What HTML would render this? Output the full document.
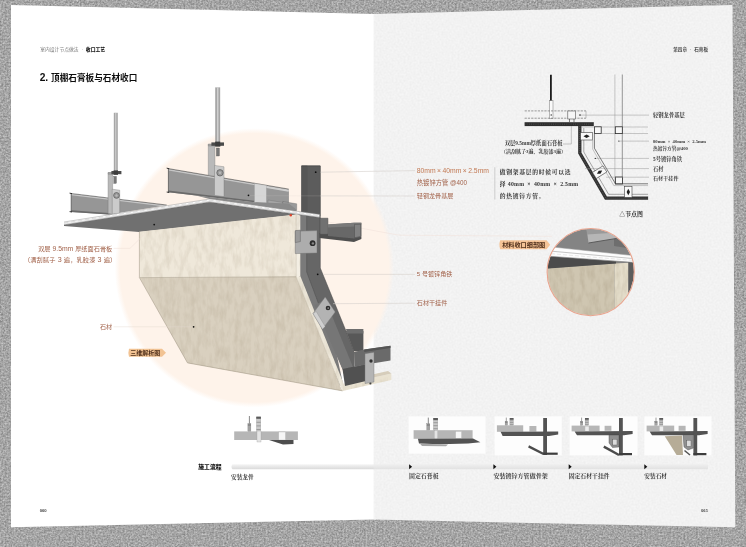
<!DOCTYPE html>
<html lang="zh"><head><meta charset="utf-8"><title>2. 顶棚石膏板与石材收口</title>
<style>html,body{margin:0;padding:0;background:#999;}body{width:746px;height:547px;overflow:hidden;font-family:"Liberation Sans","Noto Sans CJK SC",sans-serif;}svg{display:block}.sn{font-family:"Liberation Sans","Noto Sans CJK SC",sans-serif;}.sf{font-family:"Liberation Serif","Noto Serif CJK SC",serif;font-weight:bold;}</style>
</head><body>
<svg width="746" height="547" viewBox="0 0 746 547">
<defs><filter id="nz" x="0" y="0" width="100%" height="100%" color-interpolation-filters="sRGB"><feTurbulence type="fractalNoise" baseFrequency="0.56" numOctaves="2" seed="3" result="t"/><feColorMatrix in="t" type="matrix" values="0 0.4 0 0 0.447  0 0.4 0 0 0.447  0 0.4 0 0 0.447  0 0 0 0 1"/></filter>
<filter id="pz" x="0" y="0" width="100%" height="100%" color-interpolation-filters="sRGB"><feTurbulence type="fractalNoise" baseFrequency="0.5" numOctaves="2" seed="8" result="t"/><feColorMatrix in="t" type="matrix" values="0 0.05 0 0 0.924  0 0.05 0 0 0.924  0 0.05 0 0 0.924  0 0 0 0 1"/></filter>
<filter id="sz" x="0" y="0" width="100%" height="100%" color-interpolation-filters="sRGB"><feTurbulence type="fractalNoise" baseFrequency="0.2 0.075" numOctaves="3" seed="5" result="t"/><feColorMatrix in="t" type="matrix" values="0 0 0 0 0.5  0 0 0 0 0.43  0 0 0 0 0.32  0 1.8 0 0 -0.7"/></filter>
<filter id="b3"><feGaussianBlur stdDeviation="0.35"/></filter>
<filter id="b5"><feGaussianBlur stdDeviation="0.5"/></filter></defs>
<rect width="746" height="547" fill="#a5a5a5" filter="url(#nz)"/><clipPath id="cpR"><path d="M373.6,13.9 L732.5,5 L735.3,527.2 L373.6,519.6 Z"/></clipPath><path d="M11,5 L373.6,13.9 L376,13.9 L376,519.6 L373.6,519.6 L11,527.2 Z" fill="#fff"/><g clip-path="url(#cpR)"><rect x="373" y="0" width="373" height="547" fill="#f2f2f2" filter="url(#pz)"/></g><radialGradient id="pg" cx="254.3" cy="267.8" r="139.6" gradientUnits="userSpaceOnUse"><stop offset="0" stop-color="#fef3ea"/><stop offset="0.962" stop-color="#fef3ea"/><stop offset="1" stop-color="#fef3ea" stop-opacity="0"/></radialGradient><circle cx="254.3" cy="267.8" r="139.6" fill="url(#pg)"/><path d="M291.5,215.3 C330,222 385,233 400,235.2 L552,236.3" fill="none" stroke="#f1e3db" stroke-width="0.6"/><g id="main3d" filter="url(#b3)"><rect x="114.2" y="112.8" width="3.2" height="59.2" fill="#a9a9a9" /><rect x="115.3" y="112.8" width="1.0" height="59.2" fill="#d4d4d4" /><line x1="114.2" y1="112.8" x2="114.2" y2="172.0" stroke="#777" stroke-width="0.4" /><line x1="117.4" y1="112.8" x2="117.4" y2="172.0" stroke="#777" stroke-width="0.4" /><rect x="215.6" y="87.4" width="4.2" height="56.1" fill="#a9a9a9" /><rect x="217.1" y="87.4" width="1.3" height="56.1" fill="#d4d4d4" /><line x1="215.6" y1="87.4" x2="215.6" y2="143.5" stroke="#777" stroke-width="0.4" /><line x1="219.8" y1="87.4" x2="219.8" y2="143.5" stroke="#777" stroke-width="0.4" /><polygon points="71.2,193.7 166.7,205.3 109.0,214.6 71.2,211.9" fill="#969696" /><polyline points="71.2,194.5 166.7,206.0" fill="none" stroke="#c6c6c6" stroke-width="1.4" /><polyline points="71.2,193.5 166.7,205.0" fill="none" stroke="#3c3c3c" stroke-width="0.55" /><polyline points="71.2,211.1 112.0,214.0" fill="none" stroke="#6a6a6a" stroke-width="1.6" /><polyline points="71.2,193.5 71.2,212.0" fill="none" stroke="#4a4a4a" stroke-width="0.7" /><polyline points="69.6,193.2 72.0,193.6" fill="none" stroke="#222" stroke-width="0.9" /><polyline points="69.6,211.6 72.0,212.0" fill="none" stroke="#222" stroke-width="0.9" /><polygon points="108.1,172.6 112.6,172.6 112.6,214.3 108.1,213.6" fill="#b9b9b9" stroke="#7a7a7a" stroke-width="0.4" /><polygon points="112.2,189.2 119.7,190.2 119.7,213.2 112.2,214.2" fill="#cbcbcb" stroke="#7a7a7a" stroke-width="0.4" /><circle cx="116.5" cy="195.4" r="2.9" fill="#9d9d9d" stroke="#4a4a4a" stroke-width="0.6" /><circle cx="116.5" cy="195.4" r="1.5" fill="#b8b8b8" stroke="#777" stroke-width="0.3" /><polygon points="108.1,172.6 117.6,172.6 117.6,174.2 108.1,174.2" fill="#a8a8a8" stroke="#666" stroke-width="0.3" /><rect x="111.4" y="171.0" width="10.0" height="3.2" fill="#4c4c4c" /><rect x="113.6" y="170.4" width="4.4" height="4.4" fill="#3c3c3c" /><rect x="113.8" y="176.4" width="2.6" height="7.0" fill="#777" stroke="#444" stroke-width="0.3" /><polygon points="168.4,168.8 288.7,189.3 288.7,203.5 254.5,202.4 168.4,192.3" fill="#969696" /><polyline points="168.4,169.7 288.7,190.2" fill="none" stroke="#c6c6c6" stroke-width="1.5" /><polyline points="168.4,168.6 288.7,189.1" fill="none" stroke="#3c3c3c" stroke-width="0.55" /><polyline points="168.4,191.4 254.5,201.5" fill="none" stroke="#6a6a6a" stroke-width="1.7" /><polyline points="168.4,168.6 168.4,192.5" fill="none" stroke="#4a4a4a" stroke-width="0.7" /><polyline points="166.7,168.2 169.2,168.7" fill="none" stroke="#222" stroke-width="0.9" /><polyline points="166.7,192.0 169.2,192.5" fill="none" stroke="#222" stroke-width="0.9" /><polygon points="254.5,183.4 266.6,185.4 266.6,203.0 254.5,202.4" fill="#d6d6d6" stroke="#999" stroke-width="0.3" /><polygon points="266.6,187.5 288.7,191.2 288.7,203.5 266.6,203.0" fill="#979797" /><polyline points="266.6,187.2 288.7,191.0" fill="none" stroke="#d0d0d0" stroke-width="1.6" /><polygon points="256.0,202.5 283.0,205.5 283.0,209.5 256.0,205.0" fill="#8a8a8a" /><polygon points="268.0,200.0 283.0,202.5 283.0,208.0 268.0,205.5" fill="#a5a5a5" stroke="#666" stroke-width="0.3" /><polygon points="282.7,201.4 296.7,203.8 296.7,209.8 282.7,207.4" fill="#9a9a9a" stroke="#555" stroke-width="0.3" /><polygon points="196.0,195.4 254.5,202.2 288.7,203.5 296.7,209.8 296.7,211.4 209.6,199.0" fill="#8a8a8a" /><polygon points="208.3,144.2 214.9,144.2 214.9,176.0 208.3,175.2" fill="#b9b9b9" stroke="#7a7a7a" stroke-width="0.4" /><polygon points="214.5,165.4 224.0,166.8 224.0,196.6 214.5,195.4" fill="#cbcbcb" stroke="#7a7a7a" stroke-width="0.4" /><circle cx="220.0" cy="172.8" r="3.2" fill="#9d9d9d" stroke="#4a4a4a" stroke-width="0.6" /><circle cx="220.0" cy="172.8" r="1.7" fill="#b8b8b8" stroke="#777" stroke-width="0.3" /><polygon points="208.3,144.2 221.0,144.2 221.0,146.0 208.3,146.0" fill="#a8a8a8" stroke="#666" stroke-width="0.3" /><rect x="211.4" y="142.4" width="12.6" height="3.4" fill="#4c4c4c" /><rect x="215.2" y="141.6" width="5.0" height="5.0" fill="#3c3c3c" /><rect x="216.4" y="148.0" width="3.0" height="8.0" fill="#777" stroke="#444" stroke-width="0.3" /><circle cx="248.5" cy="195.3" r="0.9" fill="#111" /><polygon points="301.5,165.7 320.3,165.7 320.3,268.0 354.0,350.6 354.4,369.0 342.5,369.0 328.5,333.0 301.5,270.0" fill="#666666" /><polygon points="301.5,165.7 320.3,165.7 320.3,216.0 301.5,213.4" fill="#5c5c5c" /><polygon points="301.5,165.7 307.5,165.7 307.5,214.0 301.5,213.0" fill="#565656" /><polyline points="301.5,166.0 320.3,166.0" fill="none" stroke="#454545" stroke-width="0.7" /><polygon points="299.0,214.5 306.7,215.5 306.7,272.0 335.5,349.0 343.0,384.0 340.0,386.0 299.0,277.0" fill="#7a7a7a" /><polyline points="306.7,216.0 306.7,272.0 335.5,349.0" fill="none" stroke="#4e4e4e" stroke-width="0.5" /><polyline points="320.3,166.0 320.3,268.0 354.0,350.6" fill="none" stroke="#4a4a4a" stroke-width="0.5" /><polygon points="314.5,305.0 325.5,300.0 354.0,369.4 342.5,369.4" fill="#767676" /><circle cx="315.7" cy="172.2" r="0.9" fill="#111" /><polygon points="64.0,224.6 209.6,202.0 297.0,214.2 292.0,215.2 139.2,232.0 64.0,226.0" fill="#707070" /><polyline points="64.0,223.4 209.6,200.5 319.4,215.9" fill="none" stroke="#fcfcfc" stroke-width="3.0" stroke-linejoin="miter"/><polyline points="64.0,222.0 209.6,199.0 319.4,214.4" fill="none" stroke="#909090" stroke-width="0.45" /><polyline points="64.0,223.0 209.6,200.1 319.4,215.5" fill="none" stroke="#c2c2c2" stroke-width="0.55" stroke-dasharray="4.5 2.5"/><polyline points="64.0,224.0 209.6,201.1 319.4,216.5" fill="none" stroke="#cdcdcd" stroke-width="0.45" /><polyline points="64.0,224.9 209.6,202.0 319.4,217.4" fill="none" stroke="#5e5e5e" stroke-width="0.5" /><circle cx="154.2" cy="224.6" r="0.9" fill="#111" /><clipPath id="cpStone"><polygon points="139.2,231.7 296.2,214.4 300.3,215.5 300.3,276 344.8,386.5 391.4,376 391.4,380 342.6,390.9 187.5,362.9 140.3,277.4"/></clipPath><polygon points="139.2,231.7 296.2,214.4 296.2,277.0 139.6,277.8" fill="#efe8da" /><polygon points="139.6,277.8 296.2,276.6 340.0,385.8 342.6,390.9 187.5,362.9" fill="#d9d0bf" /><polygon points="296.2,214.4 300.3,215.5 300.3,276.0 296.2,277.0" fill="#f3eee3" /><polygon points="296.2,277.0 300.3,276.0 344.8,386.5 342.6,390.9 340.0,385.8" fill="#eee8da" /><polygon points="342.6,390.9 391.4,380.0 391.4,373.5 343.9,384.2" fill="#e9e2d1" /><polygon points="343.9,384.2 391.4,373.5 388.0,371.0 352.0,379.0" fill="#d6cdbb" /><rect x="135" y="210" width="260" height="185" filter="url(#sz)" clip-path="url(#cpStone)" opacity="0.17"/><polyline points="139.4,231.7 139.4,277.6 187.5,362.9 342.6,390.9" fill="none" stroke="#9a917f" stroke-width="0.5" /><polyline points="139.6,277.6 296.2,276.8" fill="none" stroke="#a59c8a" stroke-width="0.5" /><polyline points="296.2,214.8 296.2,277.0 340.0,385.8" fill="none" stroke="#b9b09e" stroke-width="0.4" /><circle cx="193.6" cy="326.8" r="0.9" fill="#111" /><circle cx="290.8" cy="215.2" r="1.2" fill="#e0452c" /><polygon points="342.5,369.0 366.0,364.0 366.0,381.0 345.0,386.0" fill="#515151" /><polygon points="346.0,331.0 363.4,331.0 363.4,351.3 354.0,351.3" fill="#585858" /><polygon points="346.0,329.0 363.4,329.0 363.4,333.5 347.0,333.5" fill="#6e6e6e" /><polygon points="354.0,352.0 364.2,349.6 390.5,345.8 390.5,360.6 366.0,364.4 354.4,367.0" fill="#6b6b6b" /><polygon points="364.2,349.6 390.5,345.8 390.5,348.0 364.2,352.0" fill="#555" /><polygon points="365.0,353.7 374.0,352.3 374.0,382.0 365.0,383.6" fill="#b4b4b4" stroke="#777" stroke-width="0.4" /><circle cx="371.0" cy="361.0" r="1.7" fill="#333" /><circle cx="370.4" cy="383.5" r="1.1" fill="#444" /><polygon points="319.4,233.0 361.4,236.8 361.4,239.0 354.0,241.9 319.4,238.0" fill="#4f4f4f" /><polygon points="320.0,218.2 327.9,218.2 327.9,234.4 320.0,234.4" fill="#717171" stroke="#484848" stroke-width="0.5" /><polygon points="327.9,224.6 354.0,222.8 361.4,222.8 361.4,236.8 354.0,238.4 327.9,236.0" fill="#686868" /><polygon points="327.9,224.6 354.0,222.8 361.4,222.8 361.4,224.6 354.5,226.4 327.9,227.6" fill="#7a7a7a" /><polygon points="354.5,224.4 360.8,224.2 360.8,236.4 354.5,237.8" fill="#828282" stroke="#484848" stroke-width="0.45" /><polygon points="295.3,231.2 317.0,230.6 317.0,253.0 295.3,253.6" fill="#adadad" stroke="#707070" stroke-width="0.45" stroke-linejoin="round"/><polygon points="295.3,230.6 300.4,230.2 300.4,241.6 295.3,242.6" fill="#9a9a9a" stroke="#5e5e5e" stroke-width="0.45" /><circle cx="312.6" cy="243.2" r="2.9" fill="#2e2e2e" /><circle cx="312.9" cy="243.4" r="1.2" fill="#8a8a8a" /><polygon points="313.0,313.5 325.2,297.0 335.2,312.0 322.4,329.2" fill="#b3b3b3" stroke="#777" stroke-width="0.4" /><polygon points="313.0,313.5 316.2,311.5 325.2,326.5 322.4,329.2" fill="#d0d0d0" stroke="#777" stroke-width="0.3" /><circle cx="328.0" cy="308.0" r="2.3" fill="#2e2e2e" /><circle cx="328.2" cy="308.1" r="0.9" fill="#8a8a8a" /><circle cx="317.7" cy="274.3" r="0.9" fill="#111" /></g><g opacity="0.75"><line x1="320.6" y1="172.2" x2="415.0" y2="170.6" stroke="#d6d1cd" stroke-width="0.8" /><line x1="320.6" y1="195.9" x2="415.0" y2="196.0" stroke="#d6d1cd" stroke-width="0.8" /><line x1="249.5" y1="195.7" x2="320.6" y2="195.9" stroke="#d6d1cd" stroke-width="0.8" opacity="0.3"/><line x1="323.2" y1="274.4" x2="415.0" y2="274.4" stroke="#d6d1cd" stroke-width="0.8" /><line x1="333.0" y1="303.7" x2="415.0" y2="303.2" stroke="#d6d1cd" stroke-width="0.8" /><polyline points="113.6,248.4 130.0,248.4 145.0,233.6" fill="none" stroke="#ecdcd5" stroke-width="0.6" /><line x1="113.6" y1="326.8" x2="192.6" y2="326.8" stroke="#e2d6cf" stroke-width="0.6" /></g><g id="node" filter="url(#b3)"><line x1="614.9" y1="74.5" x2="614.9" y2="184.0" stroke="#b0b0b0" stroke-width="0.7" /><line x1="622.3" y1="74.5" x2="622.3" y2="184.0" stroke="#6f6f6f" stroke-width="0.7" /><line x1="550.9" y1="74.8" x2="550.9" y2="101.0" stroke="#1c1c1c" stroke-width="1.8" /><rect x="549.4" y="100.7" width="3.6" height="17.6" fill="#fafafa" stroke="#777" stroke-width="0.5" /><circle cx="551.2" cy="115.0" r="0.7" fill="#2b2b2b" /><line x1="524.6" y1="110.9" x2="586.0" y2="110.9" stroke="#707070" stroke-width="0.7" stroke-dasharray="2.2 1.1"/><line x1="524.6" y1="118.2" x2="586.0" y2="118.2" stroke="#707070" stroke-width="0.7" stroke-dasharray="2.2 1.1"/><line x1="586.0" y1="110.9" x2="586.0" y2="118.2" stroke="#8c8c8c" stroke-width="0.5" /><rect x="567.8" y="111.0" width="7.7" height="8.0" fill="#f6f6f6" stroke="#555" stroke-width="0.6" /><line x1="569.5" y1="119.0" x2="569.5" y2="122.0" stroke="#2b2b2b" stroke-width="0.6" /><line x1="574.0" y1="119.0" x2="574.0" y2="122.0" stroke="#2b2b2b" stroke-width="0.6" /><circle cx="580.0" cy="115.1" r="0.8" fill="#2b2b2b" /><line x1="581.0" y1="115.1" x2="649.0" y2="115.1" stroke="#8c8c8c" stroke-width="0.45" /><rect x="524.6" y="122.2" width="69.2" height="3.9" fill="#2e2e2e" /><line x1="524.6" y1="124.1" x2="593.8" y2="124.1" stroke="#777" stroke-width="0.5" stroke-dasharray="0.8 1.4"/><line x1="581.5" y1="127.0" x2="648.0" y2="127.0" stroke="#8c8c8c" stroke-width="0.45" /><line x1="601.0" y1="133.5" x2="648.0" y2="133.5" stroke="#8c8c8c" stroke-width="0.45" /><rect x="594.4" y="126.8" width="6.8" height="6.6" fill="#f8f8f8" stroke="#2b2b2b" stroke-width="0.8" /><rect x="615.3" y="126.8" width="7.0" height="6.8" fill="#f8f8f8" stroke="#2b2b2b" stroke-width="0.8" /><rect x="615.5" y="177.0" width="7.0" height="7.0" fill="#f8f8f8" stroke="#2b2b2b" stroke-width="0.8" /><polyline points="579.8,126.0 579.8,153.0 605.9,198.2 648.1,198.2" fill="none" stroke="#333" stroke-width="3.3" stroke-linejoin="miter"/><polyline points="579.8,126.0 579.8,153.0 605.9,198.2 648.1,198.2" fill="none" stroke="#777" stroke-width="0.6" stroke-dasharray="0.7 1.3"/><polyline points="583.8,128.0 583.8,152.0 608.6,194.3 648.1,194.3" fill="none" stroke="#555" stroke-width="0.5" /><polyline points="594.4,133.4 594.4,148.2 615.5,183.8 648.0,183.8" fill="none" stroke="#444" stroke-width="0.7" /><polyline points="592.6,140.0 592.6,149.0 613.8,185.6 648.0,185.6" fill="none" stroke="#888" stroke-width="0.45" /><rect x="580.6" y="132.6" width="12.0" height="7.4" fill="#fafafa" stroke="#444" stroke-width="0.6" /><path d="M583.5,136.3 L586.6,134.6 L589.7,136.3 L586.6,138 Z" fill="#222"/><g transform="rotate(-32 599.6 172.2)"><rect x="593.4" y="168.6" width="12.4" height="7.2" fill="#fafafa" stroke="#444" stroke-width="0.6"/><path d="M596.5,172.2 L599.6,170.5 L602.7,172.2 L599.6,173.9 Z" fill="#222"/></g><rect x="624.6" y="186.4" width="7.4" height="11.0" fill="#fafafa" stroke="#444" stroke-width="0.6" /><path d="M628.3,188.8 L630,192 L628.3,195.2 L626.6,192 Z" fill="#222"/><circle cx="618.9" cy="141.1" r="0.7" fill="#2b2b2b" /><line x1="619.6" y1="141.1" x2="649.0" y2="141.1" stroke="#8c8c8c" stroke-width="0.45" /><circle cx="595.3" cy="158.4" r="0.7" fill="#2b2b2b" /><line x1="596.0" y1="158.4" x2="649.0" y2="158.4" stroke="#8c8c8c" stroke-width="0.45" /><line x1="585.0" y1="168.6" x2="649.0" y2="168.6" stroke="#8c8c8c" stroke-width="0.45" /><line x1="606.0" y1="177.2" x2="649.0" y2="177.2" stroke="#8c8c8c" stroke-width="0.45" /><polyline points="571.3,126.2 571.3,144.0 563.0,144.0" fill="none" stroke="#8c8c8c" stroke-width="0.5" /><circle cx="571.3" cy="125.2" r="0.6" fill="#2b2b2b" /><line x1="494.8" y1="167.2" x2="494.8" y2="199.6" stroke="#c4c4c4" stroke-width="0.8" /></g><clipPath id="cpDet"><circle cx="590.7" cy="272.1" r="43.3"/></clipPath><g clip-path="url(#cpDet)" filter="url(#b5)"><rect x="540.0" y="220.0" width="100.0" height="100.0" fill="#848484" /><polygon points="614.0,228.0 640.0,228.0 640.0,250.0 614.0,246.0" fill="#6e6e6e" /><polygon points="586.5,228.0 616.0,228.0 616.0,238.5 588.5,243.0" fill="#b6b6b6" /><polygon points="586.5,228.0 640.0,228.0 640.0,231.0 587.0,234.5" fill="#9a9a9a" /><polyline points="588.5,243.0 616.0,238.5" fill="none" stroke="#555" stroke-width="0.9" /><polygon points="545.0,268.6 614.5,263.6 614.5,320.0 545.0,320.0" fill="#cfc6b1" /><polygon points="614.5,263.6 628.4,262.8 628.4,320.0 614.5,320.0" fill="#e4ddca" /><rect x="545" y="258" width="84" height="62" filter="url(#sz)" opacity="0.2"/><polygon points="628.4,255.0 640.0,255.0 640.0,320.0 628.4,320.0" fill="#5c5c5c" /><polygon points="545.0,255.5 616.0,261.4 616.0,263.4 545.0,268.8" fill="#4b4b4b" /><polygon points="545.0,246.2 640.0,256.3 640.0,262.9 545.0,255.9" fill="#fdfdfd" /><polyline points="545.0,250.6 640.0,259.2" fill="none" stroke="#bdbdbd" stroke-width="0.9" /><polyline points="545.0,253.2 640.0,261.0" fill="none" stroke="#dadada" stroke-width="0.6" stroke-dasharray="4 2"/><polyline points="545.0,246.2 640.0,256.3" fill="none" stroke="#9a9a9a" stroke-width="0.5" /><polyline points="545.0,255.9 640.0,262.9" fill="none" stroke="#808080" stroke-width="0.6" /></g><circle cx="590.7" cy="272.1" r="43.6" fill="none" stroke="#e9a48e" stroke-width="1.1" /><path d="M500.2,240.2 L546.6,240.2 L550.2,244.7 L546.6,249.2 L500.2,249.2 Q498.6,244.7 500.2,240.2 Z" fill="#f5c497" filter="url(#b3)"/><path d="M129,348.7 L162,348.7 L166,352.7 L162,356.7 L129,356.7 Q127.8,352.7 129,348.7 Z" fill="#f2c393" filter="url(#b3)"/><linearGradient id="tl" x1="0" x2="0" y1="0" y2="1"><stop offset="0" stop-color="#f5f5f5"/><stop offset="1" stop-color="#dadada"/></linearGradient><linearGradient id="tr" x1="0" x2="0" y1="0" y2="1"><stop offset="0" stop-color="#efefef"/><stop offset="1" stop-color="#e2e2e2"/></linearGradient><path d="M232.5,464.2 L374,464.2 L374,469.2 L232.5,469.2 Q230.4,466.7 232.5,464.2 Z" fill="url(#tl)"/><rect x="373.6" y="464.2" width="334.4" height="5.0" fill="url(#tr)" /><path d="M409.1,464.3 L412.1,466.8 L409.1,469.3 Z" fill="#111"/><path d="M493.4,464.3 L496.4,466.8 L493.4,469.3 Z" fill="#111"/><path d="M568.7,464.3 L571.7,466.8 L568.7,469.3 Z" fill="#111"/><path d="M644.3,464.3 L647.3,466.8 L644.3,469.3 Z" fill="#111"/><g id="flow" filter="url(#b3)"><line x1="249.4" y1="416.0" x2="249.4" y2="423.8" stroke="#6a6a6a" stroke-width="0.8" /><rect x="247.9" y="423.5" width="3.0" height="8.1" fill="#a2a2a2" stroke="#777" stroke-width="0.3" /><line x1="247.9" y1="425.0" x2="250.9" y2="425.0" stroke="#555" stroke-width="0.6" /><rect x="256.5" y="417.1" width="4.2" height="14.5" fill="#c9c9c9" stroke="#8a8a8a" stroke-width="0.3" /><rect x="256.3" y="416.6" width="4.6" height="2.2" fill="#5a5a5a" /><line x1="256.5" y1="422.3" x2="260.7" y2="422.3" stroke="#858585" stroke-width="0.7" /><line x1="256.5" y1="425.9" x2="260.7" y2="425.9" stroke="#858585" stroke-width="0.7" /><line x1="256.5" y1="429.5" x2="260.7" y2="429.5" stroke="#858585" stroke-width="0.7" /><rect x="234.2" y="431.4" width="63.7" height="8.6" fill="#b6b6b6" /><rect x="257.0" y="431.0" width="4.0" height="11.0" fill="#e4e4e4" stroke="#999" stroke-width="0.3" /><rect x="278.7" y="432.0" width="6.8" height="8.0" fill="#f6f6f6" stroke="#aaa" stroke-width="0.3" /><polygon points="269.0,440.0 293.5,440.0 293.5,444.0 283.0,444.4" fill="#4e4e4e" /><rect x="408.7" y="416.4" width="76.8" height="37.2" fill="#fdfdfd" /><line x1="428.3" y1="417.6" x2="428.3" y2="424.0" stroke="#6a6a6a" stroke-width="0.8" /><rect x="426.8" y="423.7" width="3.0" height="6.7" fill="#a2a2a2" stroke="#777" stroke-width="0.3" /><line x1="426.8" y1="425.0" x2="429.8" y2="425.0" stroke="#555" stroke-width="0.6" /><rect x="433.5" y="418.5" width="4.2" height="11.9" fill="#c9c9c9" stroke="#8a8a8a" stroke-width="0.3" /><rect x="433.3" y="418.0" width="4.6" height="2.2" fill="#5a5a5a" /><line x1="433.5" y1="422.7" x2="437.7" y2="422.7" stroke="#858585" stroke-width="0.7" /><line x1="433.5" y1="425.7" x2="437.7" y2="425.7" stroke="#858585" stroke-width="0.7" /><line x1="433.5" y1="428.7" x2="437.7" y2="428.7" stroke="#858585" stroke-width="0.7" /><rect x="413.6" y="430.2" width="59.0" height="8.6" fill="#b6b6b6" /><rect x="434.2" y="430.2" width="3.6" height="10.6" fill="#e4e4e4" stroke="#999" stroke-width="0.3" /><rect x="455.6" y="431.4" width="6.0" height="7.2" fill="#f6f6f6" stroke="#aaa" stroke-width="0.3" /><polygon points="417.9,438.8 473.0,438.6 480.4,442.2 468.0,443.6 440.0,444.2 419.0,443.6" fill="#525252" /><polygon points="420.0,443.8 448.0,444.4 446.0,446.2 422.0,446.0" fill="#a6a6a6" /><rect x="494.6" y="416.4" width="67.2" height="39.0" fill="#fdfdfd" /><line x1="506.3" y1="417.6" x2="506.3" y2="421.5" stroke="#6a6a6a" stroke-width="0.6400000000000001" /><rect x="505.1" y="421.3" width="2.4" height="4.1" fill="#a2a2a2" stroke="#777" stroke-width="0.3" /><line x1="505.1" y1="422.1" x2="507.5" y2="422.1" stroke="#555" stroke-width="0.6" /><rect x="509.9" y="418.5" width="3.4" height="6.9" fill="#c9c9c9" stroke="#8a8a8a" stroke-width="0.3" /><rect x="509.8" y="418.0" width="3.7" height="1.8" fill="#5a5a5a" /><line x1="509.9" y1="420.8" x2="513.3" y2="420.8" stroke="#858585" stroke-width="0.7" /><line x1="509.9" y1="422.6" x2="513.3" y2="422.6" stroke="#858585" stroke-width="0.7" /><line x1="509.9" y1="424.4" x2="513.3" y2="424.4" stroke="#858585" stroke-width="0.7" /><rect x="496.9" y="425.3" width="26.3" height="6.5" fill="#b6b6b6" /><rect x="529.4" y="426.0" width="7.0" height="5.6" fill="#b6b6b6" /><polygon points="500.6,431.8 558.2,431.6 558.2,434.6 549.0,436.0 502.6,436.0" fill="#525252" /><rect x="543.2" y="418.0" width="3.8" height="37.0" fill="#525252" /><polyline points="528.6,446.4 543.6,454.0" fill="none" stroke="#4c4c4c" stroke-width="2.4" /><rect x="543.2" y="452.6" width="14.5" height="2.2" fill="#3e3e3e" /><rect x="569.6" y="416.4" width="67.9" height="39.0" fill="#fdfdfd" /><line x1="581.6" y1="417.6" x2="581.6" y2="421.5" stroke="#6a6a6a" stroke-width="0.6400000000000001" /><rect x="580.4" y="421.3" width="2.4" height="4.1" fill="#a2a2a2" stroke="#777" stroke-width="0.3" /><line x1="580.4" y1="422.1" x2="582.8" y2="422.1" stroke="#555" stroke-width="0.6" /><rect x="585.1" y="418.5" width="3.4" height="6.9" fill="#c9c9c9" stroke="#8a8a8a" stroke-width="0.3" /><rect x="585.0" y="418.0" width="3.7" height="1.8" fill="#5a5a5a" /><line x1="585.1" y1="420.8" x2="588.5" y2="420.8" stroke="#858585" stroke-width="0.7" /><line x1="585.1" y1="422.6" x2="588.5" y2="422.6" stroke="#858585" stroke-width="0.7" /><line x1="585.1" y1="424.4" x2="588.5" y2="424.4" stroke="#858585" stroke-width="0.7" /><rect x="571.6" y="425.6" width="28.0" height="5.8" fill="#b6b6b6" /><rect x="604.6" y="425.8" width="6.8" height="5.0" fill="#b6b6b6" /><rect x="585.2" y="426.4" width="3.6" height="4.6" fill="#ececec" /><polygon points="574.6,431.4 632.6,431.0 632.6,434.0 624.0,435.2 577.0,435.2" fill="#525252" /><rect x="619.0" y="418.0" width="3.8" height="37.4" fill="#525252" /><polygon points="609.0,435.0 619.0,435.0 619.0,447.0 612.5,447.5 609.0,443.0" fill="#909090" stroke="#444" stroke-width="0.4" /><rect x="612.8" y="439.2" width="4.2" height="5.8" fill="#dcdcdc" stroke="#555" stroke-width="0.4" /><polyline points="603.8,446.6 619.0,455.0" fill="none" stroke="#4c4c4c" stroke-width="2.4" /><rect x="619.0" y="453.0" width="13.0" height="2.2" fill="#3e3e3e" /><rect x="644.3" y="416.4" width="67.2" height="39.0" fill="#fdfdfd" /><line x1="656.0" y1="417.6" x2="656.0" y2="421.5" stroke="#6a6a6a" stroke-width="0.6400000000000001" /><rect x="654.8" y="421.3" width="2.4" height="4.1" fill="#a2a2a2" stroke="#777" stroke-width="0.3" /><line x1="654.8" y1="422.1" x2="657.2" y2="422.1" stroke="#555" stroke-width="0.6" /><rect x="659.5" y="418.5" width="3.4" height="6.9" fill="#c9c9c9" stroke="#8a8a8a" stroke-width="0.3" /><rect x="659.4" y="418.0" width="3.7" height="1.8" fill="#5a5a5a" /><line x1="659.5" y1="420.8" x2="662.9" y2="420.8" stroke="#858585" stroke-width="0.7" /><line x1="659.5" y1="422.6" x2="662.9" y2="422.6" stroke="#858585" stroke-width="0.7" /><line x1="659.5" y1="424.4" x2="662.9" y2="424.4" stroke="#858585" stroke-width="0.7" /><rect x="646.6" y="425.6" width="27.6" height="5.8" fill="#b6b6b6" /><rect x="678.6" y="425.8" width="7.0" height="5.0" fill="#b6b6b6" /><rect x="659.6" y="426.4" width="3.6" height="4.6" fill="#ececec" /><polygon points="649.6,431.4 707.6,431.0 707.6,434.0 699.0,435.2 652.0,435.2" fill="#525252" /><rect x="693.4" y="418.0" width="3.8" height="37.4" fill="#525252" /><polygon points="664.8,436.2 682.0,435.6 683.0,455.0 676.6,455.0" fill="#b6ac97" /><polygon points="683.0,435.4 693.4,435.4 693.4,448.0 688.0,450.0 684.0,447.0" fill="#909090" stroke="#444" stroke-width="0.4" /><rect x="686.8" y="440.2" width="4.2" height="6.2" fill="#dcdcdc" stroke="#555" stroke-width="0.4" /><polyline points="684.5,450.5 690.0,455.0" fill="none" stroke="#555" stroke-width="1.6" /><rect x="693.4" y="453.0" width="13.0" height="2.2" fill="#3e3e3e" /></g><g id="texts" filter="url(#b3)"><g class="sn" fill="#767676" font-size="4.80"><text x="40.20" y="50.80">室内设计节点做法</text><text x="82.33" y="50.80" text-anchor="middle">·</text></g><g class="sn" fill="#1a1a1a" font-size="4.80" font-weight="900"><text x="85.87" y="50.80">收口工艺</text></g><g class="sn" fill="#2a2a2a" font-size="4.60" font-weight="500"><text x="673.24" y="50.80">第四章</text><text x="690.62" y="50.80" text-anchor="middle">·</text><text x="694.20" y="50.80">石膏板</text></g><g class="sn" fill="#111" font-weight="bold"><text x="39.70" y="80.60" font-size="10.21" xml:space="preserve">2. </text><text x="51.05" y="80.60" font-size="8.65">顶棚石膏板与石材收口</text></g><g class="sn" fill="#a2624a"><text x="38.17" y="250.60" font-size="6.20">双层</text><text x="50.57" y="250.60" font-size="6.82" xml:space="preserve"> 9.5mm </text><text x="75.20" y="250.60" font-size="6.20">厚纸面石膏板</text></g><g class="sn" fill="#a2624a"><text x="23.90" y="262.20" font-size="6.20" letter-spacing="0.15">（满刮腻子</text><text x="55.65" y="262.20" font-size="7.13" letter-spacing="0.07" xml:space="preserve"> 3 </text><text x="63.80" y="262.20" font-size="6.20" letter-spacing="0.15">遍，乳胶漆</text><text x="95.55" y="262.20" font-size="7.13" letter-spacing="0.07" xml:space="preserve"> 3 </text><text x="103.70" y="262.20" font-size="6.20" letter-spacing="0.15">遍）</text></g><g class="sn" fill="#a2624a"><text x="100.00" y="329.00" font-size="6.10">石材</text></g><g class="sn" fill="#50301c" font-weight="bold"><text x="130.20" y="355.00" font-size="6.00">三维解析图</text></g><g class="sn" fill="#c27a55" font-size="6.80"><text x="416.80" y="172.90">80mm</text><text x="439.09" y="172.90" text-anchor="middle">×</text><text x="442.49" y="172.90">40mm</text><text x="464.79" y="172.90" text-anchor="middle">×</text><text x="468.19" y="172.90">2.5mm</text></g><g class="sn" fill="#a2624a" font-size="6.30"><text x="416.80" y="184.60">热镀锌方管</text><text x="448.30" y="184.60" xml:space="preserve"> @400</text></g><g class="sn" fill="#a2624a" font-size="6.10"><text x="416.80" y="198.30">轻钢龙骨基层</text></g><g class="sn" fill="#a2624a" font-size="6.10"><text x="416.80" y="275.80" xml:space="preserve">5 </text><text x="421.89" y="275.80">号镀锌角铁</text></g><g class="sn" fill="#a2624a" font-size="6.10"><text x="416.80" y="305.00">石材干挂件</text></g><g class="sn" fill="#50301c" font-weight="bold"><text x="502.20" y="247.10" font-size="6.15">材料收口细部图</text></g><g class="sf" fill="#3a3a3a"><text x="653.00" y="117.00" font-size="5.30">轻钢龙骨基层</text></g><g class="sf" fill="#3a3a3a" font-size="4.70"><text x="653.00" y="142.80" xml:space="preserve">80mm </text><text x="669.06" y="142.80" text-anchor="middle">×</text><text x="671.41" y="142.80" xml:space="preserve"> 40mm </text><text x="688.64" y="142.80" text-anchor="middle">×</text><text x="690.99" y="142.80" xml:space="preserve"> 2.5mm</text></g><g class="sf" fill="#3a3a3a" font-size="4.70"><text x="653.00" y="149.60">热镀锌方管</text><text x="676.50" y="149.60">@400</text></g><g class="sf" fill="#3a3a3a" font-size="5.30"><text x="653.00" y="160.60">5</text><text x="655.65" y="160.60">号镀锌角铁</text></g><g class="sf" fill="#3a3a3a"><text x="653.00" y="171.20" font-size="5.20">石材</text></g><g class="sf" fill="#3a3a3a"><text x="653.00" y="179.50" font-size="5.10">石材干挂件</text></g><g class="sf" fill="#3a3a3a" font-size="5.30"><text x="504.75" y="145.10">双层</text><text x="515.35" y="145.10">9.5mm</text><text x="530.80" y="145.10">厚纸面石膏板</text></g><g class="sf" fill="#3a3a3a" font-size="5.00"><text x="501.00" y="152.80">（满刮腻子</text><text x="526.00" y="152.80">3</text><text x="528.50" y="152.80">遍，乳胶漆</text><text x="553.50" y="152.80">3</text><text x="556.00" y="152.80">遍）</text></g><g class="sf" fill="#333" font-size="5.80"><text x="499.70" y="173.50" letter-spacing="0.72">做钢架基层的时候可以选</text></g><g class="sf" fill="#333" font-size="5.80"><text x="499.70" y="186.00">择</text><text x="506.02" y="186.00" letter-spacing="0.26" xml:space="preserve"> 40mm </text><text x="528.84" y="186.00" text-anchor="middle">×</text><text x="532.26" y="186.00" letter-spacing="0.26" xml:space="preserve"> 40mm </text><text x="555.09" y="186.00" text-anchor="middle">×</text><text x="558.51" y="186.00" letter-spacing="0.26" xml:space="preserve"> 2.5mm</text></g><g class="sf" fill="#333" font-size="5.80"><text x="499.70" y="197.60" letter-spacing="0.72">的热镀锌方管。</text></g><g class="sf" fill="#222"><text x="619.30" y="216.00" font-size="5.90">△节点图</text></g><g class="sn" fill="#111" font-weight="900"><text x="198.30" y="468.60" font-size="5.80">施工流程</text></g><g class="sf" fill="#3a3a3a"><text x="231.00" y="479.40" font-size="5.70">安装龙骨</text></g><g class="sf" fill="#3a3a3a"><text x="409.10" y="478.40" font-size="5.90">固定石膏板</text></g><g class="sf" fill="#3a3a3a"><text x="493.40" y="478.40" font-size="6.05">安装镀锌方管做骨架</text></g><g class="sf" fill="#3a3a3a"><text x="568.70" y="478.40" font-size="5.85">固定石材干挂件</text></g><g class="sf" fill="#3a3a3a"><text x="644.30" y="478.40" font-size="5.70">安装石材</text></g><g fill="#444" aria-label="060"><text x="39.70" y="512.20" font-family="Liberation Sans, sans-serif" font-weight="bold" font-size="4.20" xml:space="preserve">060</text></g><g fill="#444" aria-label="061"><text x="701.00" y="512.20" font-family="Liberation Sans, sans-serif" font-weight="bold" font-size="4.20" xml:space="preserve">061</text></g></g>
</svg>
</body></html>
